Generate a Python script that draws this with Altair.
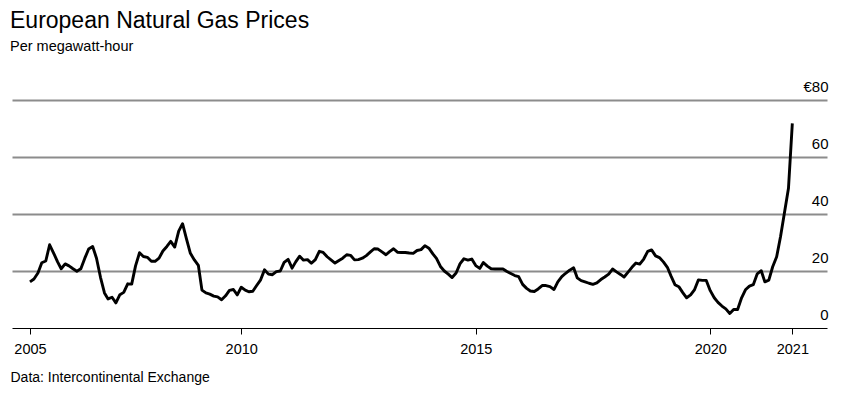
import altair as alt
import pandas as pd

# Monthly European (TTF) natural gas price, EUR per MWh
START_MONTH = "2005-07-01"
p2005 = [16.2, 17.2, 19.3, 22.9, 23.5, 29.2]
p2006 = [26.3, 23.2, 20.8, 22.5, 21.8, 20.8, 19.9, 20.8, 24.5, 27.7, 28.6, 24.5]
p2007 = [17.8, 12.3, 10.2, 10.8, 8.8, 11.7, 12.5, 15.5, 15.4, 21.8, 26.4, 25.1]
p2008 = [24.8, 23.4, 23.4, 24.5, 27.0, 28.6, 30.4, 28.4, 34.0, 36.6, 31.2, 26.2]
p2009 = [23.9, 22.0, 13.3, 12.3, 11.9, 11.2, 10.9, 9.9, 11.3, 13.2, 13.5, 11.6]
p2010 = [14.3, 13.3, 12.7, 12.9, 14.9, 16.9, 20.4, 18.9, 18.7, 19.8, 20.0, 23.0]
p2011 = [24.1, 21.0, 23.2, 25.2, 23.8, 24.0, 22.7, 24.0, 26.9, 26.5, 25.0, 23.9]
p2012 = [22.8, 23.7, 24.5, 25.7, 25.5, 23.9, 24.0, 24.5, 25.4, 26.6, 27.8, 27.7]
p2013 = [26.7, 25.7, 26.8, 27.8, 26.6, 26.5, 26.5, 26.3, 26.2, 27.2, 27.5, 28.9]
p2014 = [28.0, 26.0, 24.4, 21.6, 20.0, 18.9, 17.7, 19.3, 22.6, 24.3, 23.8, 24.2]
p2015 = [21.9, 20.9, 23.0, 21.7, 20.8, 20.7, 20.7, 20.7, 19.8, 19.1, 18.4, 18.0]
p2016 = [15.3, 13.9, 13.0, 12.8, 13.7, 14.9, 14.9, 14.5, 13.5, 16.2, 18.0, 19.2]
p2017 = [20.3, 21.1, 17.6, 16.6, 16.2, 15.7, 15.3, 15.8, 17.0, 17.9, 18.9, 20.7]
p2018 = [19.7, 18.8, 17.9, 19.6, 21.3, 22.8, 22.4, 24.2, 26.9, 27.4, 25.3, 24.7]
p2019 = [23.2, 21.3, 18.3, 15.2, 14.5, 12.4, 10.6, 11.6, 13.5, 16.9, 16.7, 16.7]
p2020 = [13.1, 10.6, 9.0, 7.7, 6.7, 5.1, 6.5, 6.5, 10.6, 13.4, 14.7, 15.2]
p2021 = [19.0, 20.1, 16.2, 16.8, 21.5, 25.0, 32.0, 40.5, 49.0, 71.8]

y_ticks = [0, 20, 40, 60, 80]
x_tick_dates = [(2005, 7), (2010, 1), (2015, 1), (2020, 1), (2021, 10)]

TITLE = "European Natural Gas Prices"
SUBTITLE = "Per megawatt-hour"
SOURCE = "Data: Intercontinental Exchange"

values = (p2005 + p2006 + p2007 + p2008 + p2009 + p2010 + p2011 + p2012 +
          p2013 + p2014 + p2015 + p2016 + p2017 + p2018 + p2019 + p2020 + p2021)
dates = pd.date_range(START_MONTH, periods=len(values), freq="MS").strftime("%Y-%m-%d")
df = pd.DataFrame({"date": list(dates), "price": values})

FONT = "Liberation Sans"

x_axis = alt.Axis(
    values=[alt.DateTime(year=y, month=m, date=1, utc=True) for y, m in x_tick_dates],
    labelExpr="utcFormat(datum.value, '%Y')",
    grid=False,
    domain=True, domainColor="#000000", domainWidth=1,
    ticks=True, tickColor="#000000", tickSize=6, tickWidth=1,
    labelFont=FONT, labelFontSize=14.5, labelColor="#000000",
    labelPadding=8, labelFlush=False, labelOverlap=False,
    title=SOURCE, titleFont=FONT, titleFontSize=14, titleFontWeight="normal",
    titleColor="#000000", titleAnchor="start", titleAlign="left",
    titleBaseline="alphabetic", titleX=-2, titleY=53,
)

y_axis = alt.Axis(
    orient="right", values=y_ticks,
    labelExpr="datum.value === 80 ? '€80' : datum.label",
    domain=False, ticks=False, tickSize=0,
    grid=True, gridColor="#8c8c8c", gridWidth=2,
    gridOpacity={"condition": {"test": "datum.value === 0", "value": 0}, "value": 1},
    labelFont=FONT, labelFontSize=15, labelColor="#000000",
    labelAlign="right", labelBaseline="alphabetic", labelPadding=1,
    labelOffset=-9, title=None,
)

chart = alt.Chart(df).mark_line(
    color="#000000", strokeWidth=2.9, strokeJoin="round"
).encode(
    x=alt.X("date:T",
            scale=alt.Scale(type="utc", domain=[
                alt.DateTime(year=2005, month=2, date=11, utc=True),
                alt.DateTime(year=2022, month=6, date=28, utc=True)]),
            axis=x_axis),
    y=alt.Y("price:Q", scale=alt.Scale(domain=[0, 80], nice=False), axis=y_axis),
).properties(
    width=815, height=228,
    autosize=alt.AutoSizeParams(type="none"),
    padding={"left": 4, "top": 92, "right": 12, "bottom": 60},
    title=alt.TitleParams(
        text=TITLE, subtitle=SUBTITLE, anchor="start", frame="group",
        font=FONT, fontSize=23, fontWeight="normal", color="#000000",
        subtitleFont=FONT, subtitleFontSize=14.5, subtitleColor="#000000",
        subtitlePadding=6.5, offset=26, dx=-2,
    ),
).configure_view(stroke=None)

chart.save("out.html", embed_options={"renderer": "svg", "actions": False})
